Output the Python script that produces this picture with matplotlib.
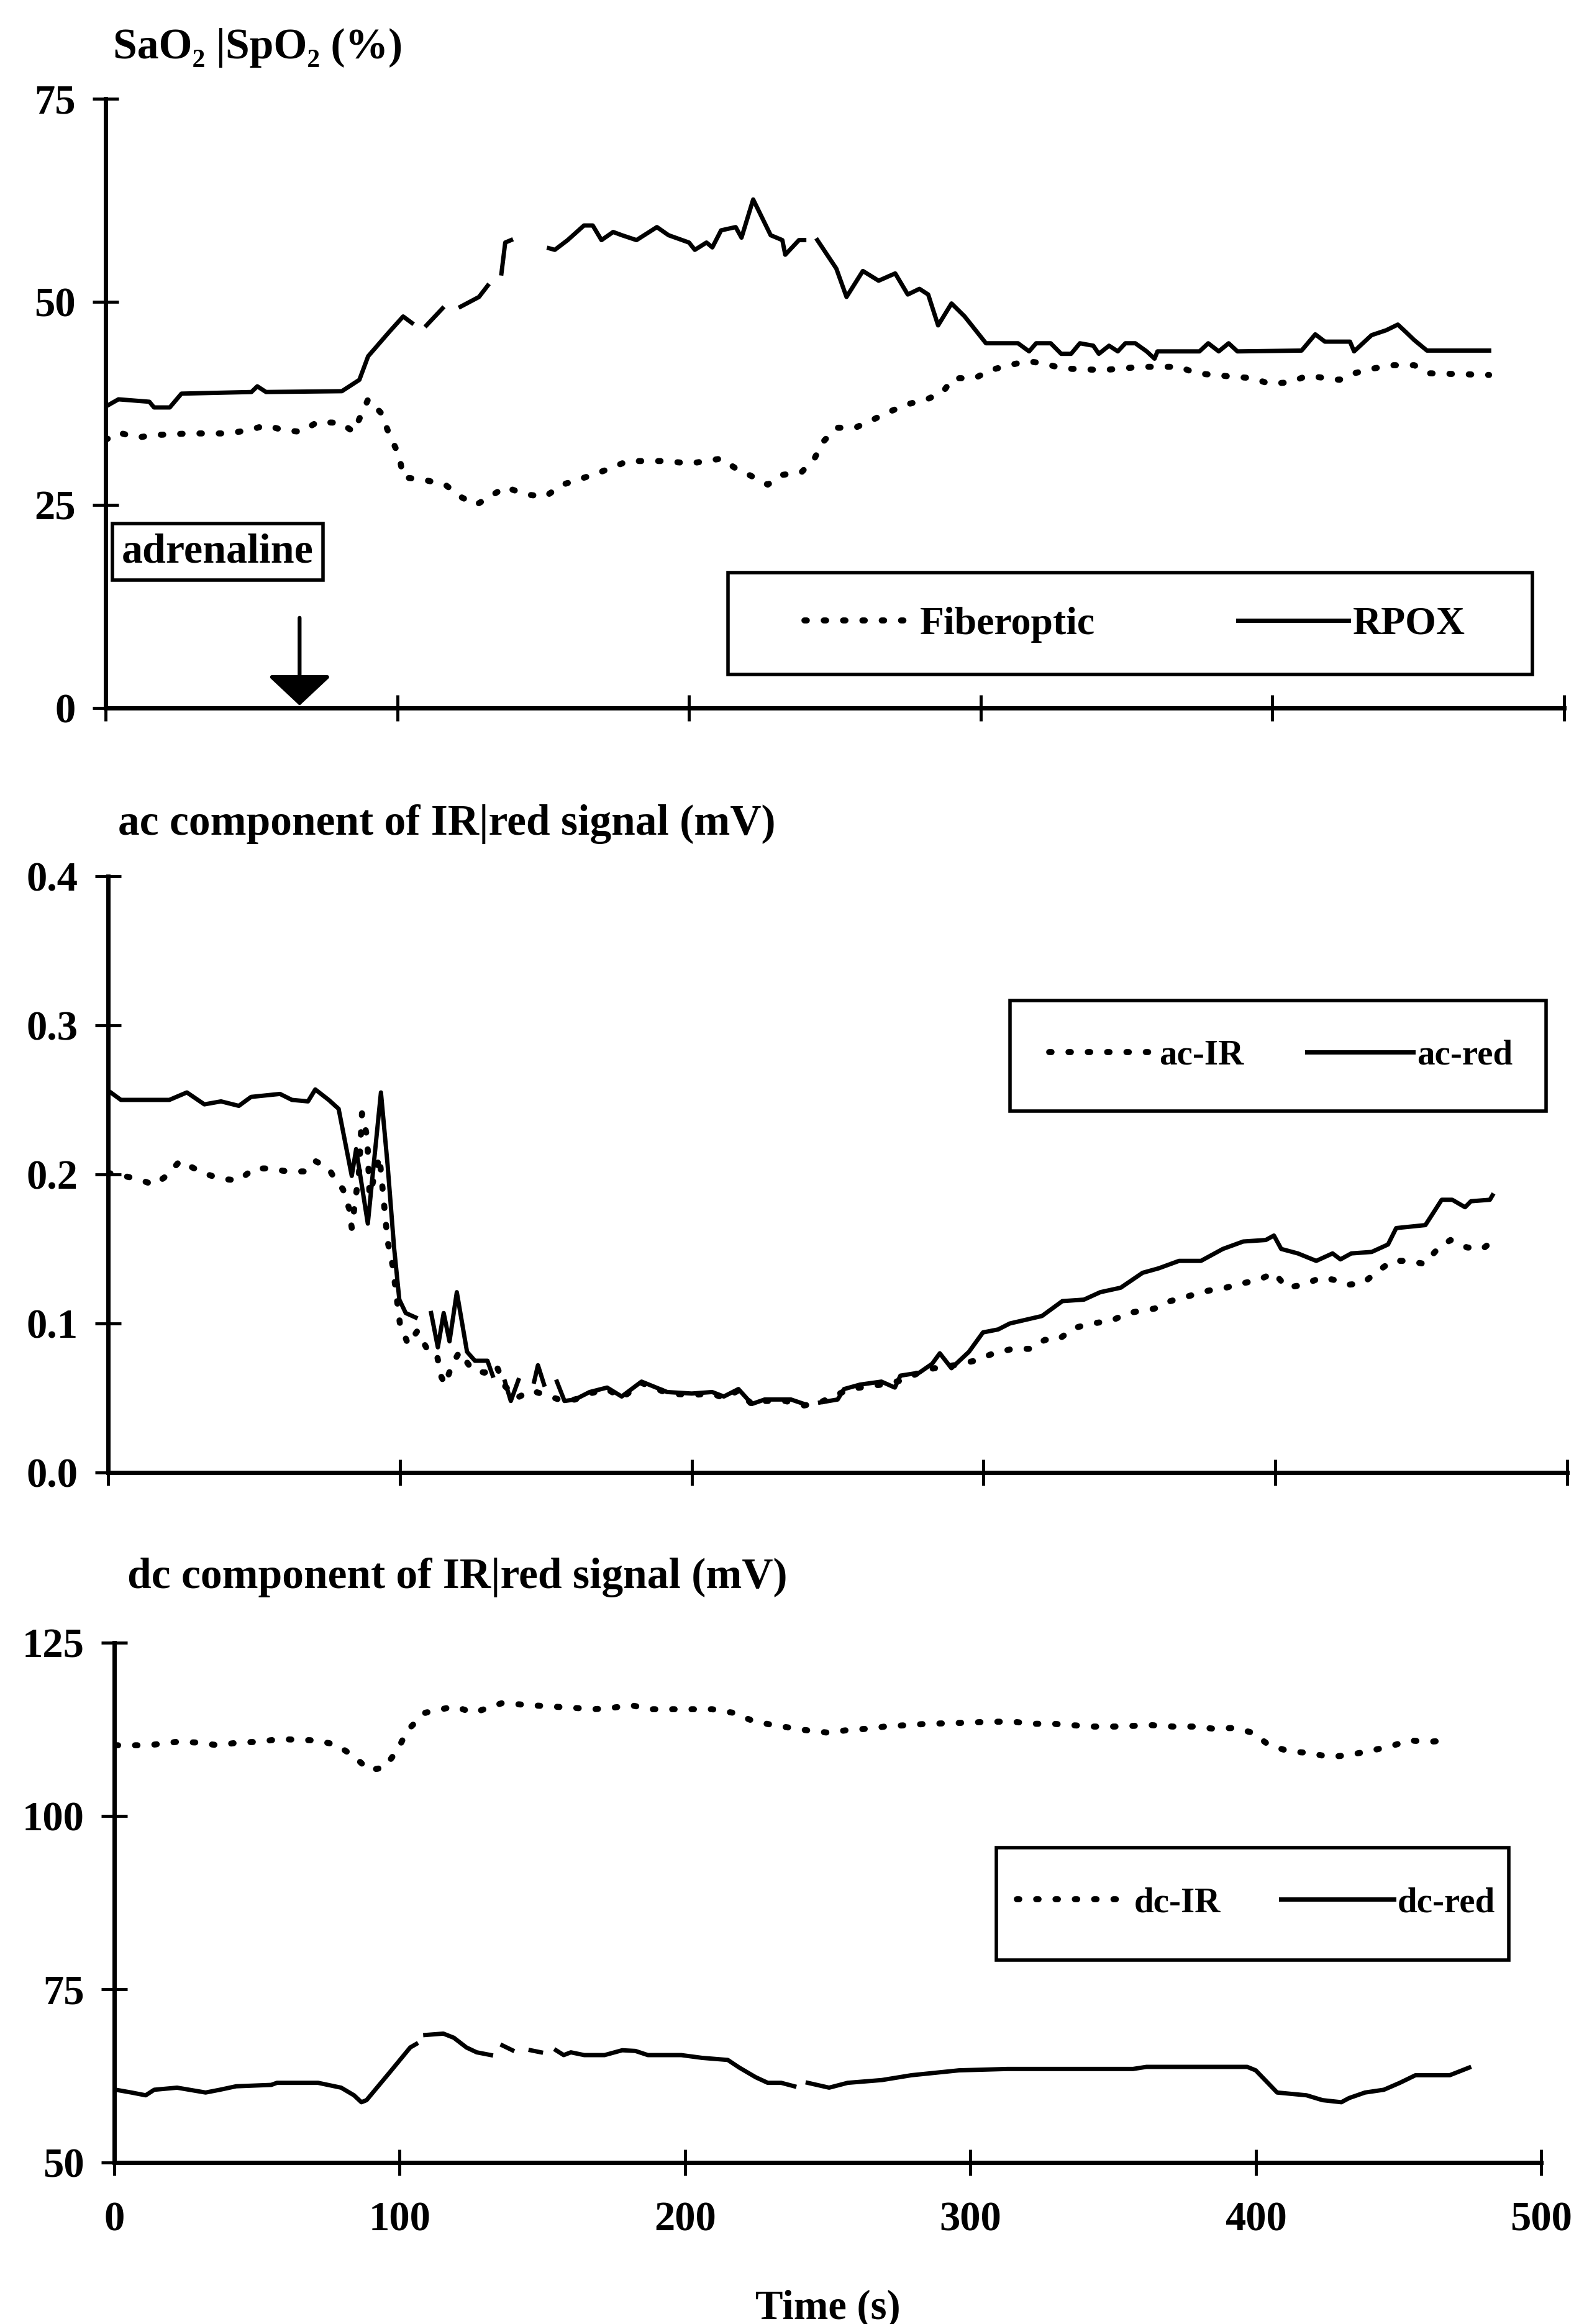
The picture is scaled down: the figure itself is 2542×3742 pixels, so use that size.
import matplotlib.pyplot as plt
import numpy as np
from matplotlib.patches import Rectangle

nan = np.nan

# ---- panel 1: SaO2 / SpO2 (%)
t_fiber = [0, 4.4, 11, 16.6, 29, 42, 49, 55, 61, 67, 72.6, 80.5, 85, 90, 94.5, 97, 100.7, 102,
           109, 116.4, 121.7, 127, 133, 137, 144, 150.6, 156.7, 167, 173, 179, 191.7, 200.5,
           211, 216, 220.6, 227, 232, 238.5, 243, 245.8, 250.5, 257, 262.5, 268.9, 275, 281.6,
           287, 290.6, 298, 303.4, 309.8, 316, 321.8, 328, 342, 355, 368, 374, 386, 393.4,
           399, 406, 412, 423, 428, 434.7, 441, 448.6, 454, 474.3]
fiber = [33.0, 33.9, 33.3, 33.6, 33.8, 33.8, 34.2, 34.8, 34.2, 34.0, 35.2, 35.1, 34.0, 38.0,
         36.3, 33.9, 31.0, 28.4, 28.1, 27.5, 26.0, 25.0, 26.3, 27.2, 26.3, 26.0, 27.5, 28.7,
         29.5, 30.4, 30.4, 30.1, 30.7, 29.5, 28.7, 27.5, 28.7, 29.0, 30.7, 32.7, 34.5, 34.5,
         35.4, 36.5, 37.4, 38.0, 38.9, 40.6, 40.6, 41.6, 42.2, 42.7, 42.4, 41.8, 41.6, 42.0,
         42.0, 41.2, 40.8, 40.6, 39.9, 40.1, 40.9, 40.4, 41.2, 41.8, 42.2, 42.2, 41.2, 41.0]

t_rpox = [0, 4.4, 15, 16.6, 22, 26, 50, 52, 55, 81, 87, 90, 97, 102, 105, 107,
          110, 115.5, 118,
          121.7, 128, 131, 133,
          135.7, 137, 139, 145,
          152, 154, 158.4, 164, 167, 170, 174, 177, 182, 189, 193, 200, 202, 206, 208, 211,
          216, 218, 222, 228, 232, 233, 237.7, 239.5, 242,
          244, 250.5, 254, 259.6, 265, 270.7, 275, 279, 282, 285.4, 290, 294.5, 301.8, 312.8,
          316.6, 319, 324, 327.6, 331, 334, 338.6, 340.5, 344, 347, 349.6, 353, 356.9, 359.6,
          360.6, 375, 378, 381.6, 385, 388, 410, 414.7, 418, 426.6, 428, 434, 439, 443, 446,
          448.6, 453, 474.3]
rpox = [37.1, 38.0, 37.7, 37.0, 37.0, 38.7, 38.9, 39.6, 38.9, 39.0, 40.4, 43.3, 46.2, 48.2, 47.4, nan,
        47.1, 49.2, nan,
        49.4, 50.6, 52.0, nan,
        53.5, 57.3, 57.6, nan,
        56.6, 56.4, 57.6, 59.4, 59.4, 57.6, 58.6, 58.2, 57.6, 59.2, 58.2, 57.3, 56.4, 57.3, 56.7, 58.8,
        59.2, 57.9, 62.6, 58.2, 57.6, 55.8, 57.6, 57.6, nan,
        57.6, 54.1, 50.6, 53.8, 52.6, 53.5, 50.9, 51.6, 50.9, 47.1, 49.8, 48.2, 44.9, 44.9,
        43.9, 44.9, 44.9, 43.6, 43.6, 44.9, 44.6, 43.6, 44.6, 43.9, 44.9, 44.9, 43.9, 43.0,
        43.9, 43.9, 44.9, 43.9, 44.9, 43.9, 44.0, 46.0, 45.1, 45.1, 43.9, 45.9, 46.5, 47.2, 46.2,
        45.3, 44.0, 44.0]

# ---- panel 2: ac component (mV)
t_acir = [0, 5.3, 10, 15.8, 20, 24.6, 32.5, 38.7, 44.8, 50, 55, 61.5, 67.7, 71, 75.6, 78, 80.5,
          82.6, 83.5, 86, 87, 88.8, 89.6, 93, 95.8, 97.5, 100, 102.8, 106, 109, 112.6, 114,
          115.5, 117.8, 120.4, 124.8, 129, 133, 136, 140, 145, 150, 156, 160, 165, 171, 176,
          183, 192, 200, 207, 211, 216, 221, 225, 232, 238.5, 244, 254, 265, 272.5, 280, 290,
          297, 303.5, 310, 316, 321, 325.5, 331, 337.4, 344, 349.5, 358.6, 364, 369.6, 377,
          383, 388.8, 394, 399.5, 404, 409.6, 416, 420.6, 425, 430, 434.4, 440, 445.5, 451,
          455.6, 460, 465.7, 471, 474.8]
ac_ir = [0.201, 0.199, 0.197, 0.193, 0.199, 0.209, 0.201, 0.197, 0.196, 0.204, 0.204, 0.202,
         0.202, 0.209, 0.204, 0.196, 0.190, 0.177, 0.164, 0.202, 0.241, 0.225, 0.186, 0.212,
         0.155, 0.139, 0.100, 0.086, 0.095, 0.084, 0.080, 0.065, 0.059, 0.072, 0.081, 0.069,
         0.067, 0.072, 0.058, 0.050, 0.055, 0.052, 0.048, 0.049, 0.053, 0.056, 0.050, 0.060,
         0.053, 0.052, 0.053, 0.050, 0.055, 0.045, 0.048, 0.048, 0.045, 0.047, 0.056, 0.059,
         0.062, 0.069, 0.072, 0.075, 0.080, 0.083, 0.083, 0.089, 0.089, 0.097, 0.100, 0.102,
         0.107, 0.110, 0.115, 0.118, 0.122, 0.124, 0.127, 0.129, 0.134, 0.124, 0.126, 0.131,
         0.129, 0.126, 0.127, 0.134, 0.142, 0.142, 0.140, 0.150, 0.156, 0.151, 0.150, 0.156]

t_acred = [0.9, 4.4, 14, 21, 27, 33, 38.7, 44.8, 49, 58.9, 63, 68.5, 71, 75.6, 79, 83.5, 85, 89,
           93.5, 95.8, 98, 99.8, 102, 105.4, 108,
           110.7, 113, 115, 117, 119.5, 123, 125.7, 130, 131.8, 134,
           136, 138, 140.6, 143,
           146, 147.3, 149.4, 151,
           153.8, 156.4, 160, 165, 171, 176, 182.8, 191.6, 200, 207, 211, 216, 220.6, 225, 228.5,
           234, 238.5, 241,
           244, 250, 252.2, 257.7, 265, 269.6, 271.5, 278, 282.4, 285, 289, 295, 299.8, 305, 309,
           320, 327, 334.4, 340, 347, 354.5, 360, 367, 374.5, 382, 389, 396.7, 399.5, 402,
           407.7, 414, 419.6, 422.3, 426, 433, 438.6, 441.4, 451.4, 457, 460.6, 465, 467,
           473.5, 474.4]
ac_red = [0.255, 0.250, 0.250, 0.250, 0.255, 0.247, 0.249, 0.246, 0.252, 0.254, 0.250, 0.249,
          0.257, 0.250, 0.244, 0.199, 0.217, 0.167, 0.255, 0.206, 0.151, 0.116, 0.107, 0.104, nan,
          0.107, 0.084, 0.107, 0.088, 0.121, 0.081, 0.075, 0.075, 0.065, nan,
          0.061, 0.048, 0.062, nan,
          0.061, 0.072, 0.059, nan,
          0.061, 0.048, 0.049, 0.054, 0.057, 0.051, 0.061, 0.054, 0.053, 0.054, 0.051, 0.056,
          0.046, 0.049, 0.049, 0.049, 0.046, nan,
          0.047, 0.049, 0.056, 0.059, 0.061, 0.057, 0.065, 0.067, 0.073, 0.080, 0.070, 0.081,
          0.094, 0.096, 0.100, 0.105, 0.115, 0.116, 0.121, 0.124, 0.134, 0.137, 0.142, 0.142,
          0.150, 0.155, 0.156, 0.159, 0.150, 0.147, 0.142, 0.147, 0.143, 0.147, 0.148, 0.153,
          0.164, 0.166, 0.183, 0.183, 0.178, 0.182, 0.183, 0.186]

# ---- panel 3: dc component (mV)
t_dcir = [0.5, 8.6, 14, 22, 29, 36.4, 43.6, 50.8, 58, 64, 70.5, 77.7, 84, 89.3, 94.7, 99.2,
          102.8, 109, 112.6, 119, 126, 136, 145, 153, 161, 168, 174.5, 180.8, 188, 195, 202,
          209.5, 216.7, 223.9, 231, 242, 250.5, 257, 264.5, 270, 277.6, 285, 294.4, 307.5,
          315, 321.5, 329, 335.5, 343, 350.5, 363.5, 371, 378.5, 385, 392.5, 399, 404.7, 412,
          418.7, 426, 432.7, 439, 446.7, 454, 460.7, 467]
dc_ir = [110.2, 110.2, 110.3, 110.7, 110.6, 110.2, 110.6, 110.7, 111.1, 111.0, 110.9, 110.3,
         108.6, 106.6, 107.0, 109.5, 112.4, 114.9, 115.2, 115.8, 114.9, 116.3, 116.0, 115.8,
         115.6, 115.4, 115.6, 116.0, 115.4, 115.4, 115.4, 115.4, 114.9, 113.7, 113.1, 112.4,
         112.0, 112.4, 112.6, 112.9, 113.1, 113.3, 113.4, 113.6, 113.6, 113.3, 113.3, 113.1,
         112.9, 112.9, 113.1, 112.9, 112.9, 112.6, 112.7, 112.0, 110.2, 109.3, 109.1, 108.5,
         108.8, 109.3, 110.0, 110.9, 110.7, 110.9]

t_dcred = [0.5, 6, 11, 14, 22, 32, 37, 42.7, 55, 57, 71.4, 79.5, 84, 86.6, 88.4, 96.5, 103.7, 105.8, 107,
           109, 115.3, 119, 123.4, 127, 132, 134,
           136, 139.5, 142,
           145.9, 149.5, 152,
           154.8, 157.5, 160, 164.7, 171.8, 178, 182.6, 187, 198.7, 206, 215, 219, 224.8, 229,
           233.7, 238.3, 240,
           243, 250.5, 257, 269, 279.4, 296, 313, 331.8, 357, 361.7, 397, 400, 407.5, 417.8,
           423.4, 430, 432.7, 438.3, 444.9, 450.5, 456, 468, 474.8]
dc_red = [60.5, 60.1, 59.7, 60.5, 60.8, 60.1, 60.5, 61.0, 61.2, 61.5, 61.5, 60.8, 59.7, 58.7, 59.0,
          63.0, 66.6, 67.1, nan,
          68.4, 68.6, 68.0, 66.6, 65.9, 65.5, nan,
          66.9, 66.2, nan,
          66.2, 65.9, nan,
          66.2, 65.5, 65.9, 65.5, 65.5, 66.2, 66.1, 65.5, 65.5, 65.1, 64.8, 63.7, 62.3, 61.5,
          61.5, 61.0, nan,
          61.5, 60.8, 61.5, 61.9, 62.6, 63.3, 63.5, 63.5, 63.5, 63.8, 63.8, 63.3, 60.1, 59.7,
          59.0, 58.7, 59.3, 60.1, 60.5, 61.5, 62.6, 62.6, 63.7]

x_ticks = [0, 100, 200, 300, 400, 500]

plt.rcParams['font.family'] = ['Liberation Serif', 'DejaVu Serif']
plt.rcParams['font.weight'] = 'bold'
plt.rcParams['axes.labelweight'] = 'bold'

dotted = dict(color='black', lw=7, linestyle=(0, (0.4, 2.8)), dash_capstyle='round')
solid = dict(color='black', lw=5)

fig = plt.figure(figsize=(25.42, 37.42), dpi=100)
ax1 = fig.add_axes([0.06688, 0.69535, 0.92368, 0.26216])
ax2 = fig.add_axes([0.06845, 0.36638, 0.92408, 0.25655])
ax3 = fig.add_axes([0.07238, 0.06948, 0.90362, 0.22368])


def style(ax, ylim, yticks, ylabels, show_x):
    ax.set_xlim(0, 500)
    ax.set_ylim(*ylim)
    ax.set_xticks(x_ticks)
    ax.set_yticks(yticks)
    ax.set_yticklabels(ylabels)
    for s in ['top', 'right']:
        ax.spines[s].set_visible(False)
    for s in ['left', 'bottom']:
        ax.spines[s].set_linewidth(5)
    ax.tick_params(direction='inout', length=30, width=3.5, labelsize=48)
    ax.tick_params(axis='y', pad=20)
    ax.tick_params(axis='x', pad=30, labelbottom=show_x)


def legend_box(ax, x0, y0, x1, y1):
    ax.add_patch(Rectangle((x0, y0), x1 - x0, y1 - y0, transform=ax.transAxes,
                           fill=False, lw=4, edgecolor='black', clip_on=False))


# panel 1
ax1.plot(t_fiber, fiber, label='Fiberoptic', **dotted)
ax1.plot(t_rpox, rpox, label='RPOX', **solid)
style(ax1, (0, 75), [0, 25, 50, 75], ['0', '25', '50', '75'], False)
legend_box(ax1, 0.4268, 0.055, 0.9783, 0.222)
ax1.legend(loc='center', bbox_to_anchor=(0.7057, 0.137), ncol=2, frameon=False, fontsize=46,
           handlelength=2.8, handletextpad=0.1, columnspacing=3.6, borderpad=0)
ax1.text(38.4, 19.2, 'adrenaline', ha='center', va='center', fontsize=49,
         bbox=dict(boxstyle='square,pad=0.22', fc='white', ec='black', lw=4))
ax1.annotate('', xy=(66.5, 0.3), xytext=(66.5, 11.1),
             arrowprops=dict(arrowstyle='-|>,head_length=3.0,head_width=3.2', mutation_scale=10,
                             lw=4.5, color='black', shrinkA=0, shrinkB=0))

# panel 2
ax2.plot(t_acir, ac_ir, label='ac-IR', **dotted)
ax2.plot(t_acred, ac_red, label='ac-red', **solid)
style(ax2, (0, 0.4), [0, 0.1, 0.2, 0.3, 0.4], ['0.0', '0.1', '0.2', '0.3', '0.4'], False)
legend_box(ax2, 0.618, 0.606, 0.9855, 0.792)
ax2.legend(loc='center', bbox_to_anchor=(0.8038, 0.699), ncol=2, frameon=False, fontsize=41,
           handlelength=3.0, handletextpad=0.1, columnspacing=1.8, borderpad=0)

# panel 3
ax3.plot(t_dcir, dc_ir, label='dc-IR', **dotted)
ax3.plot(t_dcred, dc_red, label='dc-red', **solid)
style(ax3, (50, 125), [50, 75, 100, 125], ['50', '75', '100', '125'], True)
legend_box(ax3, 0.6182, 0.3895, 0.9774, 0.6057)
ax3.legend(loc='center', bbox_to_anchor=(0.8002, 0.499), ncol=2, frameon=False, fontsize=41,
           handlelength=3.2, handletextpad=0.1, columnspacing=1.7, borderpad=0)
ax3.set_xlabel('Time (s)', fontsize=48, fontweight='bold', labelpad=58)

fig.text(182 / 2542, 1 - 77 / 3742, 'SaO\u2082 |SpO\u2082 (%)', fontsize=50, va='center', ha='left')
fig.text(190 / 2542, 1 - 1327 / 3742, 'ac component of IR|red signal (mV)', fontsize=50,
         va='center', ha='left')
fig.text(205 / 2542, 1 - 2540 / 3742, 'dc component of IR|red signal (mV)', fontsize=50,
         va='center', ha='left')

plt.savefig('out.png', dpi=100, facecolor='white')
